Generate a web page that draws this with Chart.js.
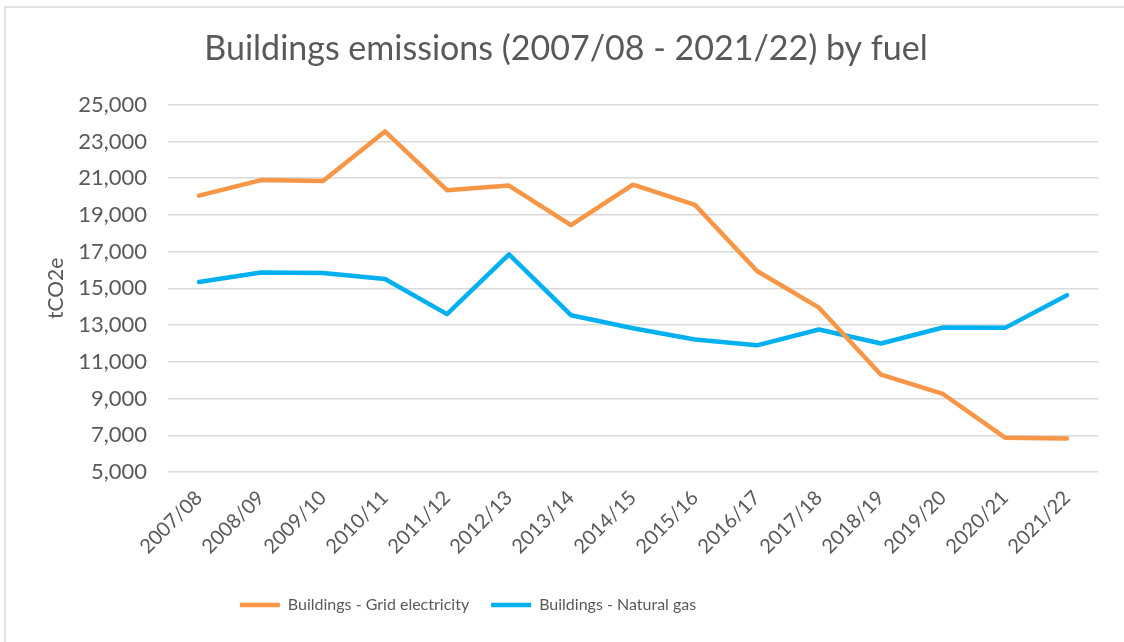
<!DOCTYPE html>
<html>
<head>
<meta charset="utf-8">
<script src="https://cdn.jsdelivr.net/npm/chart.js@4"></script>
<style>
html, body { margin: 0; padding: 0; background: #fff; overflow: hidden; }
#wrap { position: relative; width: 1124px; height: 642px; overflow: hidden; }
#frame { position: absolute; left: 4px; top: 6px; right: -10px; bottom: -10px;
         border-left: 2px solid #e3e3e3; border-top: 2px solid #e3e3e3; pointer-events: none; }
</style>
</head>
<body>
<div id="wrap">
    <canvas id="myChart" width="1124" height="642"></canvas>
    <div id="frame"></div>
</div>
<script>
// data
const years = ['2007/08', '2008/09', '2009/10', '2010/11', '2011/12', '2012/13', '2013/14', '2014/15',
    '2015/16', '2016/17', '2017/18', '2018/19', '2019/20', '2020/21', '2021/22'];
const gridElectricity = [20050, 20900, 20850, 23550, 20350, 20600, 18450, 20650,
    19550, 15950, 13950, 10300, 9250, 6870, 6830];
const naturalGas = [15350, 15870, 15840, 15510, 13600, 16850, 13540, 12830,
    12220, 11900, 12760, 12000, 12870, 12850, 14630];
const yMin = 5000;
const yMax = 25000;
const yStep = 2000;

Chart.defaults.font.family = 'Lato';
Chart.defaults.color = '#595959';

// Excel puts the legend left of centre and the title a little right of it
const boxShift = {
    id: 'boxShift',
    afterLayout(chart) {
        chart.legend.left -= 86;
        chart.legend.right -= 86;
        chart.titleBlock.left += 12;
        chart.titleBlock.right += 12;
    }
};

const data = {
    labels: years,
    datasets: [{
        label: 'Buildings - Grid electricity',
        data: gridElectricity,
        borderColor: 'rgb(247, 150, 70)',
        backgroundColor: 'rgb(247, 150, 70)',
        borderWidth: 4.5,
        pointBorderWidth: 4.5,
    }, {
        label: 'Buildings - Natural gas',
        data: naturalGas,
        borderColor: 'rgb(0, 176, 240)',
        backgroundColor: 'rgb(0, 176, 240)',
        borderWidth: 4.5,
        pointBorderWidth: 4.5,
    }]
};

const config = {
    type: 'line',
    data,
    options: {
        responsive: false,
        animation: false,
        devicePixelRatio: 1,
        layout: { padding: { left: 10, right: 26, top: 0, bottom: 19 } },
        elements: {
            line: { tension: 0, borderCapStyle: 'round', borderJoinStyle: 'round' },
            point: { radius: 0, hoverRadius: 0 }
        },
        plugins: {
            title: {
                display: true,
                text: 'Buildings emissions (2007/08 - 2021/22) by fuel',
                font: { size: 34, weight: 'normal' },
                color: '#595959',
                padding: { top: 29, bottom: 35 }
            },
            legend: {
                position: 'bottom',
                labels: {
                    usePointStyle: true,
                    pointStyle: 'line',
                    pointStyleWidth: 40,
                    font: { size: 16 },
                    color: '#595959',
                    padding: 22
                }
            },
            tooltip: { enabled: false }
        },
        scales: {
            x: {
                offset: true,
                grid: { display: false },
                border: { display: false },
                ticks: { minRotation: 45, maxRotation: 45, font: { size: 20 }, color: '#595959', padding: 6 },
                afterFit(scale) { scale.height = 103; }
            },
            y: {
                min: yMin,
                max: yMax,
                grid: { color: '#d9d9d9', lineWidth: 1.5, drawTicks: false },
                border: { display: false },
                ticks: {
                    stepSize: yStep,
                    font: { size: 22 },
                    color: '#595959',
                    padding: 21,
                    callback: v => v.toLocaleString('en-US')
                },
                title: {
                    display: true,
                    text: 'tCO2e',
                    font: { size: 21 },
                    color: '#595959',
                    padding: { top: 34, bottom: 0 }
                },
                afterFit(scale) { scale.width = 158; }
            }
        }
    },
    plugins: [boxShift]
};

var myChart = new Chart(
    document.getElementById('myChart'),
    config
);
</script>
</body>
</html>
